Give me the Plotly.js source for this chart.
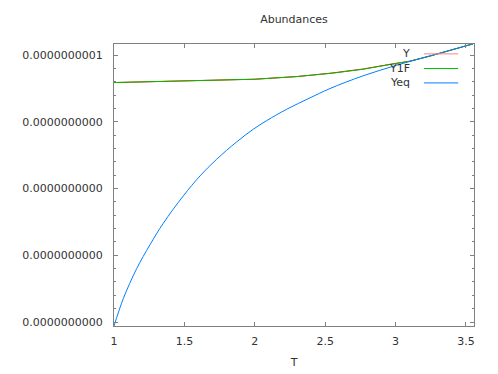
<!DOCTYPE html>
<html>
<head>
<meta charset="utf-8">
<script src="https://cdn.plot.ly/plotly-3.0.1.min.js"></script>
<style>
  body { margin: 0; background: #fff; }
  #chart { width: 498px; height: 374px; }
</style>
</head>
<body>
<div id="chart"></div>
<script>
// temperature axis (T) and abundances
var tEq = [1.0, 1.066, 1.161, 1.256, 1.35, 1.492, 1.611, 1.729, 1.871, 1.989, 2.085, 2.227, 2.392, 2.534, 2.768, 3.008, 3.244, 3.55];
var yEq = [1.94e-11, 2.35e-11, 2.80e-11, 3.16e-11, 3.48e-11, 3.89e-11, 4.19e-11, 4.44e-11, 4.70e-11,
           4.89e-11, 5.02e-11, 5.19e-11, 5.36e-11, 5.50e-11, 5.69e-11, 5.85e-11, 5.99e-11, 6.17e-11];

var tF = [1.0, 1.3, 1.6, 2.0, 2.3, 2.55, 2.77, 2.96, 3.1, 3.25, 3.55];
var yF = [5.59e-11, 5.60e-11, 5.62e-11, 5.64e-11, 5.68e-11, 5.73e-11, 5.79e-11, 5.86e-11, 5.91e-11, 5.99e-11, 6.17e-11];
var yY = [5.59e-11, 5.60e-11, 5.62e-11, 5.64e-11, 5.68e-11, 5.733e-11, 5.793e-11, 5.863e-11, 5.91e-11, 5.99e-11, 6.17e-11];

var xTicks = [1, 1.5, 2, 2.5, 3, 3.5];
var xTickText = ["1", "1.5", "2", "2.5", "3", "3.5"];
var yTicks = [2e-11, 3e-11, 4e-11, 5e-11, 6e-11];
var yTickText = ["0.0000000000", "0.0000000000", "0.0000000000", "0.0000000000", "0.0000000001"];

var names = ["Y", "Y1F", "Yeq"];
var colors = ["#ff0000", "#00c000", "#0080ff"];
var keyColors = ["#ff8080", "#00c000", "#0080ff"];

var FONT = "DejaVu Sans, sans-serif";
var AXC = "#808080";

var traces = [
    { name: names[0], x: tF, y: yY, mode: 'lines', line: { color: colors[0], width: 1 } },
    { name: names[1], x: tF, y: yF, mode: 'lines', line: { color: colors[1], width: 1 } },
    { name: names[2], x: tEq, y: yEq, mode: 'lines', line: { color: colors[2], width: 1, shape: 'spline', smoothing: 1 } }
];

// gnuplot style key: text on the left, sample line on the right
var annotations = [];
var shapes = [];
var keyY = [0.965, 0.913, 0.862];
for (var i = 0; i < names.length; i++) {
    annotations.push({
        xref: 'paper', yref: 'paper', x: 0.828, y: keyY[i],
        xanchor: 'right', yanchor: 'middle', showarrow: false,
        text: names[i], font: { family: FONT, size: 11, color: '#333' }
    });
    shapes.push({
        type: 'line', xref: 'paper', yref: 'paper',
        x0: 0.861, x1: 0.956, y0: keyY[i], y1: keyY[i],
        line: { color: keyColors[i], width: 1 }
    });
}

var layout = {
    width: 498, height: 374,
    margin: { l: 114, r: 24, t: 44, b: 48 },
    paper_bgcolor: '#fff', plot_bgcolor: '#fff',
    showlegend: false,
    font: { family: FONT, size: 11, color: '#333' },
    title: {
        text: "Abundances", x: 0.5, xref: 'paper', xanchor: 'center',
        y: 0.949, yanchor: 'middle', font: { family: FONT, size: 11, color: '#333' }
    },
    xaxis: {
        range: [1, 3.557],
        tickmode: 'array', tickvals: xTicks, ticktext: xTickText,
        ticks: 'inside', ticklen: 4, tickcolor: AXC,
        showline: true, linecolor: AXC, linewidth: 1, mirror: 'ticks',
        showgrid: false, zeroline: false,
        ticklabelstandoff: 5,
        title: { text: "T", standoff: 11, font: { family: FONT, size: 11, color: '#333' } }
    },
    yaxis: {
        range: [1.94e-11, 6.168e-11],
        tickmode: 'array', tickvals: yTicks, ticktext: yTickText,
        ticks: 'inside', ticklen: 4, tickcolor: AXC,
        minor: { tick0: 2e-11, dtick: 0.2e-11, ticks: 'inside', ticklen: 2, tickcolor: AXC },
        showline: true, linecolor: AXC, linewidth: 1, mirror: 'ticks',
        showgrid: false, zeroline: false,
        ticklabelstandoff: 8
    },
    annotations: annotations,
    shapes: shapes
};

Plotly.newPlot('chart', traces, layout, { staticPlot: true, displayModeBar: false });
</script>
</body>
</html>
